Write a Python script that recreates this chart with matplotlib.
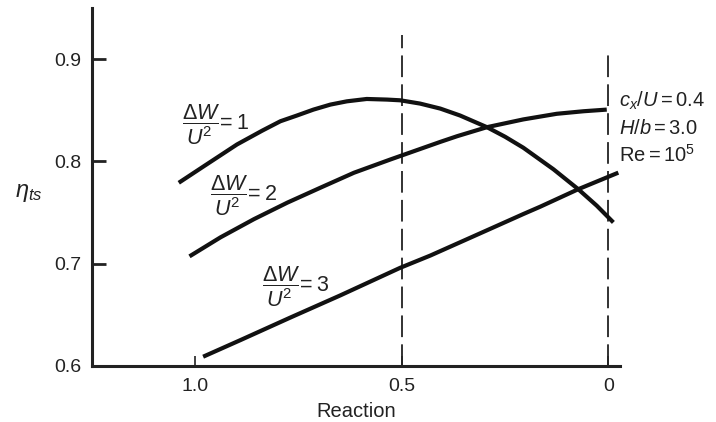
import numpy as np
import matplotlib.pyplot as plt

plt.rcParams['font.family'] = ['Liberation Sans', 'DejaVu Sans']
plt.rcParams['mathtext.fontset'] = 'custom'
plt.rcParams['mathtext.rm'] = 'Liberation Sans'
plt.rcParams['mathtext.it'] = 'Liberation Sans:italic'
plt.rcParams['mathtext.bf'] = 'Liberation Sans:bold'

# curves (reaction, eta_ts)
r1 = [1.040, 0.980, 0.899, 0.838, 0.794, 0.754, 0.714, 0.673, 0.633, 0.585, 0.536, 0.504,
      0.456, 0.407, 0.359, 0.318, 0.294, 0.250, 0.206, 0.133, 0.073, 0.028, -0.012]
eta1 = [0.779, 0.795, 0.8165, 0.830, 0.8392, 0.8448, 0.8506, 0.8555, 0.8587, 0.861, 0.8604, 0.8597,
        0.8565, 0.8516, 0.8448, 0.8376, 0.8334, 0.8240, 0.8133, 0.7922, 0.7727, 0.7565, 0.7402]

r2 = [1.014, 0.939, 0.858, 0.777, 0.697, 0.616, 0.527, 0.447, 0.407, 0.366, 0.294, 0.206, 0.125, 0.060, 0.004]
eta2 = [0.707, 0.7256, 0.7434, 0.7596, 0.7742, 0.7888, 0.8019, 0.8133, 0.8190, 0.8246, 0.8334, 0.8410, 0.8465, 0.8490, 0.8506]

r3 = [0.981, 0.891, 0.770, 0.649, 0.504, 0.431, 0.350, 0.294, 0.206, 0.165, 0.073, -0.024]
eta3 = [0.6088, 0.625, 0.6471, 0.6688, 0.6958, 0.7078, 0.7224, 0.7325, 0.7484, 0.7556, 0.7727, 0.7889]

labels = [r'$\dfrac{\Delta W}{U^2}\!=1$', r'$\dfrac{\Delta W}{U^2}\!=2$', r'$\dfrac{\Delta W}{U^2}\!=3$']
label_pos = [(1.032, 0.836), (0.964, 0.766), (0.839, 0.677)]

# dashed verticals (x, top)
vlines_x = [0.5, 0.0]
vlines_top = [0.924, 0.909]

notes = [r'$c_x/U = 0.4$', r'$H/b = 3.0$', r'$\mathrm{Re} = 10^5$']
notes_y = [0.8587, 0.832, 0.806]

fig = plt.figure(figsize=(7.16, 4.22), dpi=100)
ax = fig.add_axes([0.1285, 0.1334, 0.7374, 0.8476])

for x, top in zip(vlines_x, vlines_top):
    ax.plot([x, x], [0.6, top], color='#222222', lw=1.3, dashes=(12, 4), zorder=1)

for r, e in [(r1, eta1), (r2, eta2), (r3, eta3)]:
    ax.plot(r, e, color='#111111', lw=3.0, solid_capstyle='butt', solid_joinstyle='round', zorder=3)

for lab, (x, y) in zip(labels, label_pos):
    ax.text(x, y, lab, fontsize=15.5, ha='left', va='center', color='#222222')

for n, y in zip(notes, notes_y):
    ax.text(-0.025, y, n, fontsize=14.5, ha='left', va='center', color='#222222', clip_on=False)

ax.set_xlim(1.25, -0.028)
ax.set_ylim(0.6, 0.95)
ax.set_xticks([1.0, 0.5, 0.0])
ax.set_xticklabels(['1.0', '0.5', '0'])
ax.set_yticks([0.6, 0.7, 0.8, 0.9])
ax.set_yticklabels(['0.6', '0.7', '0.8', '0.9'])

for s in ['top', 'right']:
    ax.spines[s].set_visible(False)
for s in ['left', 'bottom']:
    ax.spines[s].set_linewidth(2.2)
    ax.spines[s].set_color('#222222')

ax.tick_params(axis='y', direction='in', length=10, width=2, labelsize=14, pad=8, colors='#222222')
ax.tick_params(axis='x', direction='in', length=7, width=1.2, labelsize=14, pad=9, colors='#222222')

fig.text(356 / 716, 1 - 411.7 / 422, 'Reaction', fontsize=14.5, ha='center', va='center', color='#222222')
fig.text(29 / 716, 1 - 193 / 422, r'$\eta_{ts}$', fontsize=17, ha='center', va='center', color='#222222')

fig.savefig('out.png', dpi=100)
